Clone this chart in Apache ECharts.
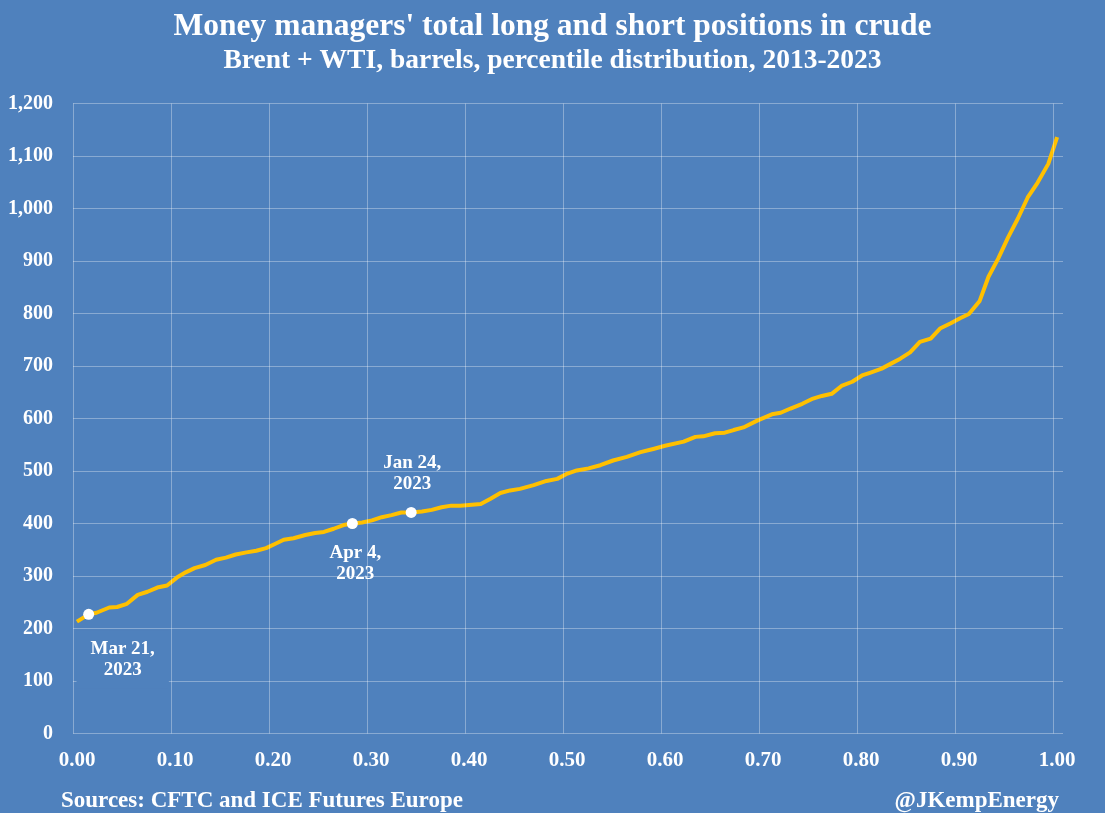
<!DOCTYPE html>
<html>
<head>
<meta charset="utf-8">
<script src="https://cdn.jsdelivr.net/npm/echarts@6/dist/echarts.min.js"></script>
<style>
html,body{margin:0;padding:0;background:#4F81BD;}
#chart{width:1105px;height:813px;}
</style>
</head>
<body>
<div id="chart"></div>
<script>
// Percentile (x) and total positions, million barrels (y)
const percentile = [0.004,0.016,0.024,0.037,0.045,0.055,0.066,0.076,0.086,0.096,0.106,0.115,0.124,0.135,0.146,0.156,0.166,0.177,0.187,0.197,0.206,0.215,0.225,0.237,0.247,0.256,0.266,0.276,0.285,0.295,0.305,0.315,0.325,0.335,0.345,0.356,0.366,0.376,0.386,0.395,0.416,0.426,0.436,0.446,0.456,0.470,0.483,0.494,0.503,0.514,0.526,0.538,0.551,0.565,0.579,0.592,0.604,0.623,0.635,0.643,0.655,0.665,0.674,0.684,0.698,0.713,0.722,0.732,0.744,0.755,0.764,0.774,0.784,0.795,0.805,0.813,0.825,0.835,0.844,0.854,0.864,0.875,0.885,0.895,0.905,0.914,0.925,0.934,0.944,0.954,0.964,0.974,0.984,0.995,1.004];
const positions = [213,227,230,240,241,247,264,270,278,282,297,307,315,321,331,335,341,345,348,353,361,369,372,378,382,384,390,397,400,402,406,412,416,421,421,423,426,431,434,434,437,447,458,463,466,473,481,485,494,501,505,511,520,527,536,542,548,556,565,566,572,573,578,583,596,608,611,619,628,638,643,647,662,670,682,687,695,705,714,726,746,752,772,781,791,799,824,870,905,945,981,1021,1049,1085,1136];

const markedX = [0.016,0.285,0.345];
const markedY = [227,400,421];
const markedLabels = ['Mar 21,\n2023','Apr 4,\n2023','Jan 24,\n2023'];
const markedOffsets = [[34,45],[3,40],[1,-39]];

const xTicks = [0,0.1,0.2,0.3,0.4,0.5,0.6,0.7,0.8,0.9,1.0];

const title = "Money managers' total long and short positions in crude";
const subtitle = "Brent + WTI, barrels, percentile distribution, 2013-2023";
const sourceText = "Sources: CFTC and ICE Futures Europe";
const handle = "@JKempEnergy";

const FONT = '"Liberation Serif", "DejaVu Serif", serif';
const GRID = 'rgba(255,255,255,0.33)';

const chart = echarts.init(document.getElementById('chart'));
chart.setOption({
  backgroundColor: '#4F81BD',
  animation: false,
  textStyle: {fontFamily: FONT},
  title: [
    {text: title, left: 'center', top: 6,
     textStyle: {color:'#fff', fontFamily: FONT, fontWeight:'bold', fontSize: 31.5}},
    {text: subtitle, left: 'center', top: 42,
     textStyle: {color:'#fff', fontFamily: FONT, fontWeight:'bold', fontSize: 27.5}},
    {text: sourceText, left: 56, top: 785,
     textStyle: {color:'#fff', fontFamily: FONT, fontWeight:'bold', fontSize: 23}},
    {text: handle, right: 41, top: 785,
     textStyle: {color:'#fff', fontFamily: FONT, fontWeight:'bold', fontSize: 23}}
  ],
  grid: {left: 73, right: 42, top: 103.5, bottom: 79.5, containLabel: false},
  xAxis: {
    type: 'value', min: 0, max: 1.01, interval: 0.1,
    axisLine: {show:false}, axisTick: {show:false},
    splitLine: {show:false},
    axisLabel: {color:'#fff', fontFamily: FONT, fontWeight:'bold', fontSize: 21, margin: 17,
      showMaxLabel: false, padding: [0,0,0,8],
      formatter: v => v.toFixed(2)}
  },
  yAxis: {
    type: 'value', min: 0, max: 1200, interval: 100,
    axisLine: {show:false}, axisTick: {show:false},
    splitLine: {show:true, lineStyle:{color: GRID, width:1}},
    axisLabel: {color:'#fff', fontFamily: FONT, fontWeight:'bold', fontSize: 20, margin: 20,
      formatter: v => v.toLocaleString('en-US')}
  },
  series: [
    {
      type: 'line', silent: true,
      data: percentile.map((x,i)=>[x, positions[i]]),
      showSymbol: false, symbol: 'none',
      lineStyle: {color:'#FFC000', width: 4, join:'round'},
      markLine: {
        silent: true, symbol: ['none','none'], label:{show:false},
        lineStyle: {color: GRID, width: 1, type: 'solid'},
        data: xTicks.map(t => ({xAxis: t}))
      },
      z: 2
    },
    {
      type: 'scatter', silent: true, z: 3,
      symbol: 'circle', symbolSize: 11,
      itemStyle: {color:'#fff', opacity: 1},
      data: markedX.map((x,i)=>({
        value: [x, markedY[i]],
        label: {
          show: true, position: 'inside', offset: markedOffsets[i],
          formatter: markedLabels[i],
          color:'#fff', fontFamily: FONT, fontWeight:'bold', fontSize: 19, lineHeight: 21,
          align: 'center', verticalAlign: 'middle',
          backgroundColor: i === 0 ? '#4F81BD' : 'transparent',
          padding: i === 0 ? [6,14,10,14] : 0
        }
      }))
    }
  ]
});
</script>
</body>
</html>
